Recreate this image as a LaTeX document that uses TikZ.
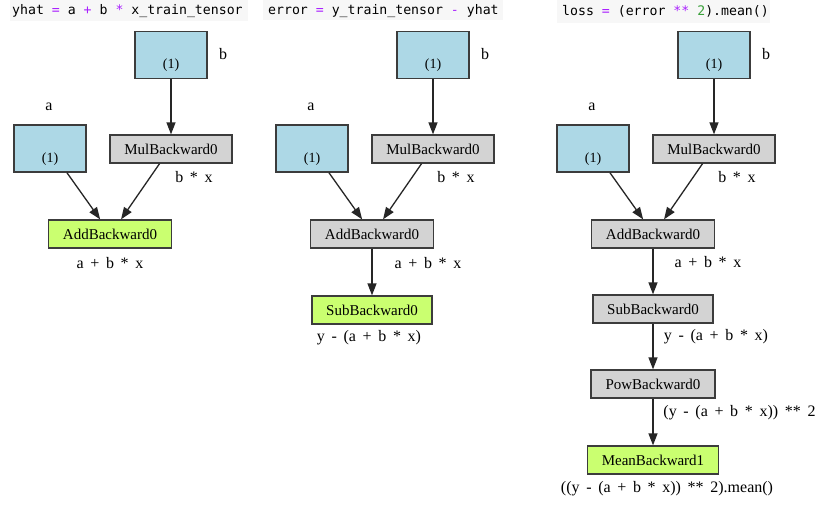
\documentclass[tikz,border=0pt]{standalone}
\usepackage{fontspec}
\setmainfont{Liberation Serif}
\newfontfamily\codefont{DejaVu Sans Mono}
\definecolor{lblue}{HTML}{ADD8E6}
\definecolor{lgreen}{HTML}{CAFF70}
\definecolor{lgray}{HTML}{D3D3D3}
\definecolor{codebg}{HTML}{F7F7F7}
\definecolor{oppurple}{HTML}{AA22FF}
\definecolor{numgreen}{HTML}{3AA03A}
\definecolor{rim}{HTML}{3C3C3C}
\usetikzlibrary{arrows.meta}

\begin{document}
\begin{tikzpicture}[x=1pt,y=-1pt,
	leaf/.style={draw=rim, line width=1.3pt, fill=lblue, minimum width=72pt, minimum height=47pt, inner sep=0pt, font=\fontsize{14}{14}\selectfont},
	fnode/.style={draw=rim, line width=1.3pt, minimum height=28pt, inner sep=0pt, font=\fontsize{15}{15}\selectfont},
	txt/.style={inner sep=0pt, font=\fontsize{16}{16}\selectfont},
	code/.style={inner sep=0pt, anchor=base west, font=\codefont\fontsize{13.2}{14}\selectfont},
	flow/.style={-{Triangle[length=12pt,width=9pt]}, line width=1.3pt, black!85}]
	\useasboundingbox[fill=white] (0,0) rectangle (828,517);
	%code lines
	\fill[codebg] (10,0) rectangle (248,21);
	\fill[codebg] (263,0) rectangle (503,20);
	\fill[codebg] (557,0) rectangle (770,23);
	\node[code] (h1) at (12,14.5) {yhat \textcolor{oppurple}{=} a \textcolor{oppurple}{+} b \textcolor{oppurple}{*} x\_train\_tensor};
	\node[code] (h2) at (268,14.5) {error \textcolor{oppurple}{=} y\_train\_tensor \textcolor{oppurple}{-} yhat};
	\node[code] (h3) at (562,15.5) {loss \textcolor{oppurple}{=} (error \textcolor{oppurple}{**} \textcolor{numgreen}{2}).mean()};
	%the part that all three graphs share
	\foreach \p/\dx/\addfill in {1/0/lgreen, 2/262/lgray, 3/543/lgray}{
		\node[leaf] (b\p) at (171+\dx,55) {\raisebox{-13.5pt}[0pt][0pt]{(1)}};
		\node[txt] (bl\p) at (223+\dx,54) {b};
		\node[txt] (al\p) at (49+\dx,107) {a};
		\node[leaf] (a\p) at (50+\dx,148.5) {\raisebox{-13.5pt}[0pt][0pt]{(1)}};
		\node[fnode, fill=lgray, minimum width=122pt] (mul\p) at (171+\dx,149) {MulBackward0};
		\node[txt] (mull\p) at (194+\dx,177) {b\ \,*\ \,x};
		\node[fnode, fill=\addfill, minimum width=123pt] (add\p) at (110+\dx,234) {AddBackward0};
		\draw[flow] (b\p) -- (mul\p);
		\draw[flow] (a\p.-55) -- (add\p.124);
		\draw[flow] (mul\p.-128) -- (add\p.53);
	}
	\node[txt] (addl1) at (110,263) {a\ \,+\ \,b\ \,*\ \,x};
	\node[txt] (addl2) at (428,263) {a\ \,+\ \,b\ \,*\ \,x};
	\node[txt] (addl3) at (708,262) {a\ \,+\ \,b\ \,*\ \,x};
	%error
	\node[fnode, fill=lgreen, minimum width=120pt] (sub2) at (372,310) {SubBackward0};
	\node[txt] (subl2) at (369,338) {y\ \,-\ \,(a\ \,+\ \,b\ \,*\ \,x)};
	\draw[flow] (add2.south -| sub2) -- (sub2);
	%loss
	\node[fnode, fill=lgray, minimum width=120pt] (sub3) at (653,309) {SubBackward0};
	\node[txt] (subl3) at (716,337) {y\ \,-\ \,(a\ \,+\ \,b\ \,*\ \,x)};
	\node[fnode, fill=lgray, minimum width=124pt] (pow3) at (653,384) {PowBackward0};
	\node[txt] (powl3) at (739.5,413) {(y\ \,-\ \,(a\ \,+\ \,b\ \,*\ \,x))\ \,**\ \,2};
	\node[fnode, fill=lgreen, minimum width=131pt] (mean3) at (653,460) {MeanBackward1};
	\node[txt] (meanl3) at (667,489) {((y\ \,-\ \,(a\ \,+\ \,b\ \,*\ \,x))\ \,**\ \,2).mean()};
	\draw[flow] (add3) -- (sub3);
	\draw[flow] (sub3) -- (pow3);
	\draw[flow] (pow3) -- (mean3);
\end{tikzpicture}
\end{document}
